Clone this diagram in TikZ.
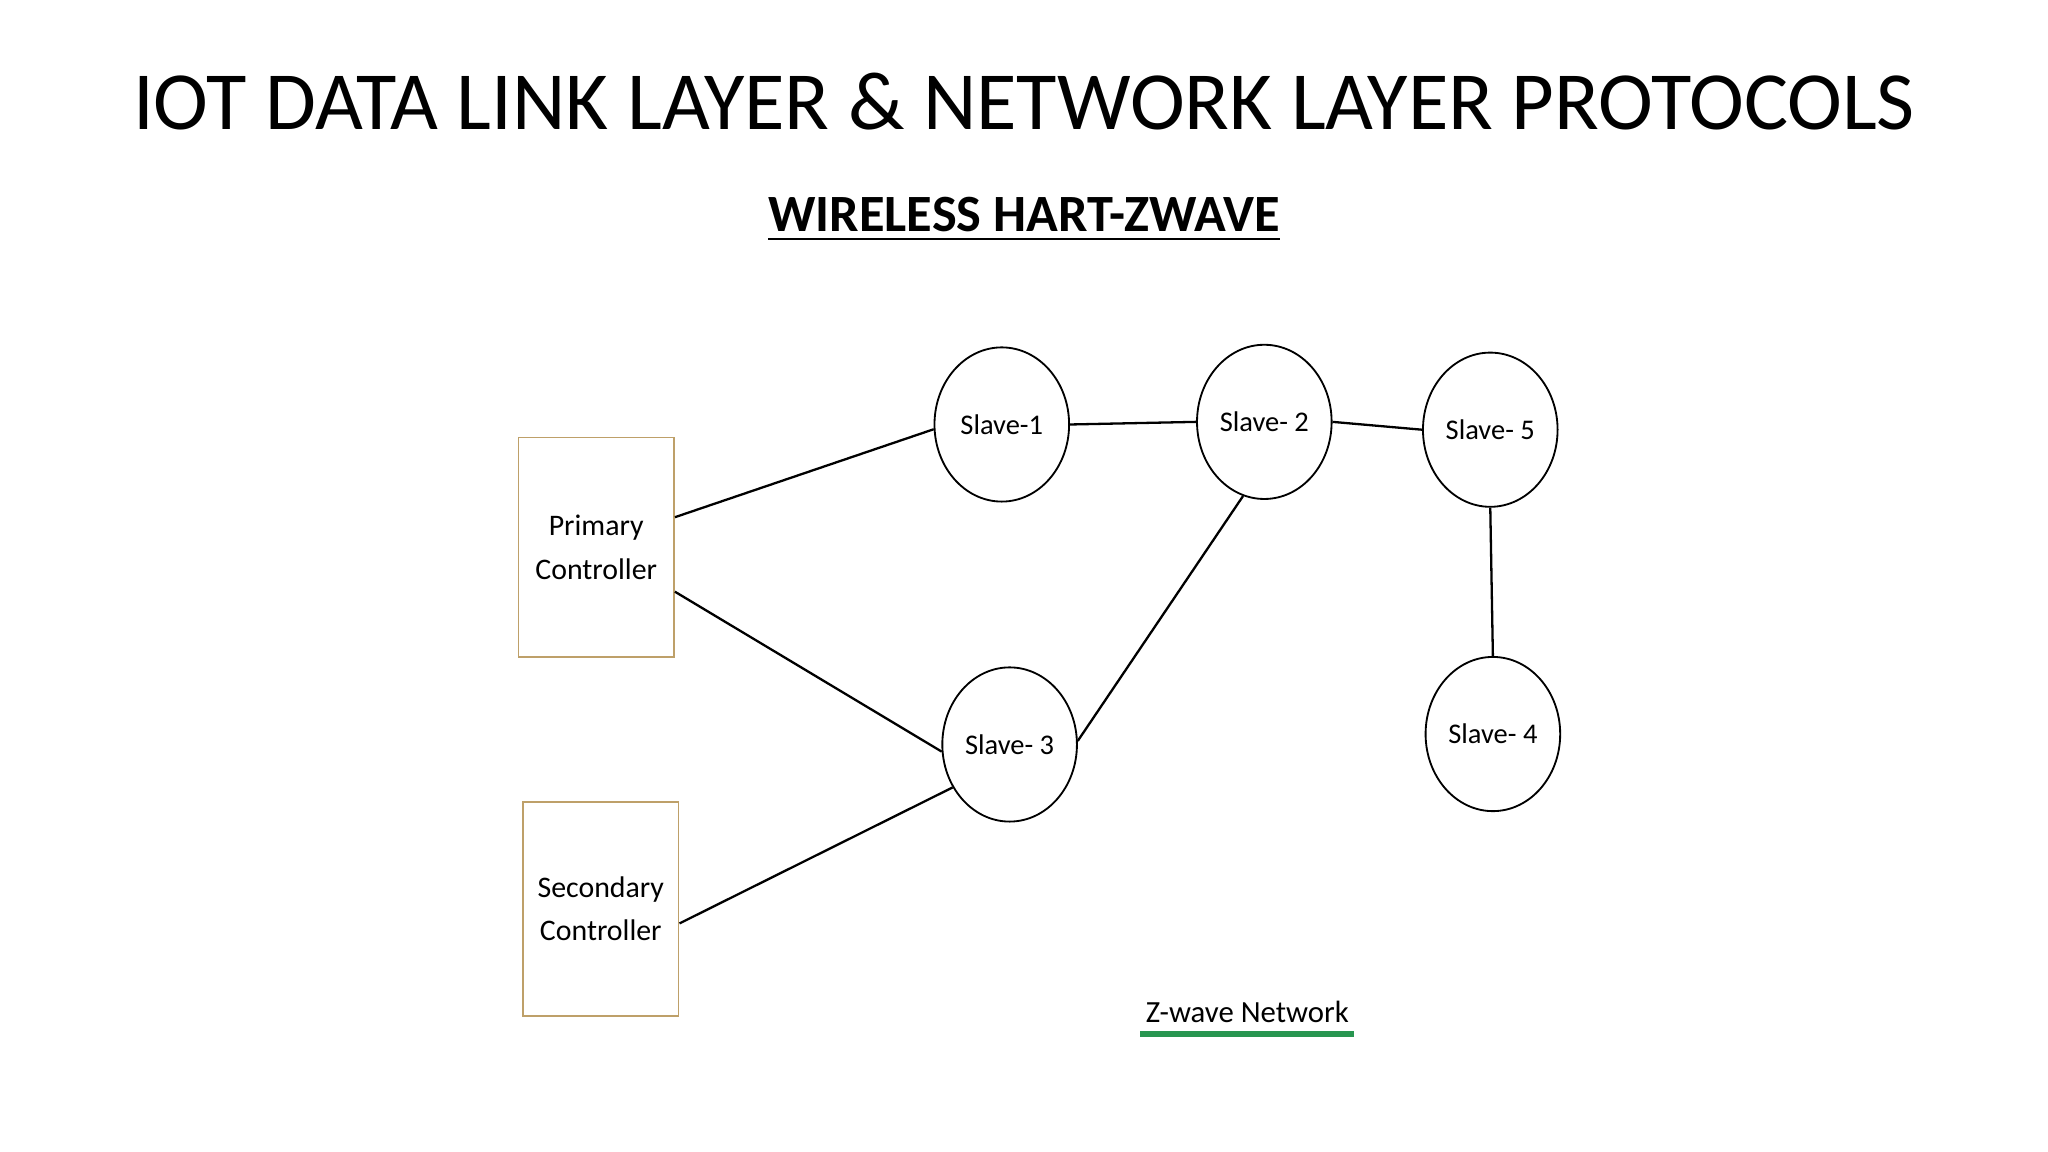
\documentclass[tikz,border=0pt]{standalone}
\usepackage{fontspec}
\setmainfont{Carlito}
\usetikzlibrary{shapes.geometric}
\definecolor{tan}{RGB}{190,160,105}
\definecolor{zg}{RGB}{40,150,80}
\begin{document}
\begin{tikzpicture}[x=0.01cm,y=-0.01cm,
 slave/.style={draw,ellipse,minimum width=1.03cm,minimum height=1.18cm,inner sep=0pt,font=\fontsize{6.2}{8}\selectfont},
 ctrl/.style={draw=tan,minimum width=1.19cm,inner sep=0pt,align=center,font=\fontsize{6.5}{9.4}\selectfont},
 link/.style={draw,line width=0.5pt}]
\useasboundingbox (0,0) rectangle (1568,882);
\node (title) at (784,78) {\fontsize{18}{22}\selectfont IOT DATA LINK LAYER \& NETWORK LAYER PROTOCOLS};
\node (sub) at (784,168) {\fontsize{11.4}{13}\selectfont\bfseries\underline{WIRELESS HART-ZWAVE}};
\node[slave] (s1) at (767,325) {Slave-1};
\node[slave] (s2) at (968,323) {Slave- 2};
\node[slave] (s5) at (1141,329) {Slave- 5};
\node[slave] (s3) at (773,570) {Slave- 3};
\node[slave] (s4) at (1143,562) {Slave- 4};
\node[ctrl,minimum height=1.68cm] (pc) at (456.5,419) {Primary\\Controller};
\node[ctrl,minimum height=1.64cm] (sc) at (460,696) {Secondary\\Controller};
\node[font=\fontsize{6.7}{9}\selectfont,inner sep=1pt] (zw) at (955,775) {Z-wave Network};
\draw[zg,line width=1.2pt] (zw.south west)++(0,4) coordinate (u1) -- (zw.south east|-u1);
\draw[link] ([yshift=0.23cm]pc.east) -- (s1.184);
\draw[link] ([yshift=-0.34cm]pc.east) -- (s3.186);
\draw[link] ([yshift=-0.11cm]sc.east) -- (s3.217);
\draw[link] (s1.east) -- (s2.west);
\draw[link] (s2.east) -- (s5.west);
\draw[link] (s3.3) -- (s2.254);
\draw[link] (s5.south) -- (s4.north);
\end{tikzpicture}
\end{document}
